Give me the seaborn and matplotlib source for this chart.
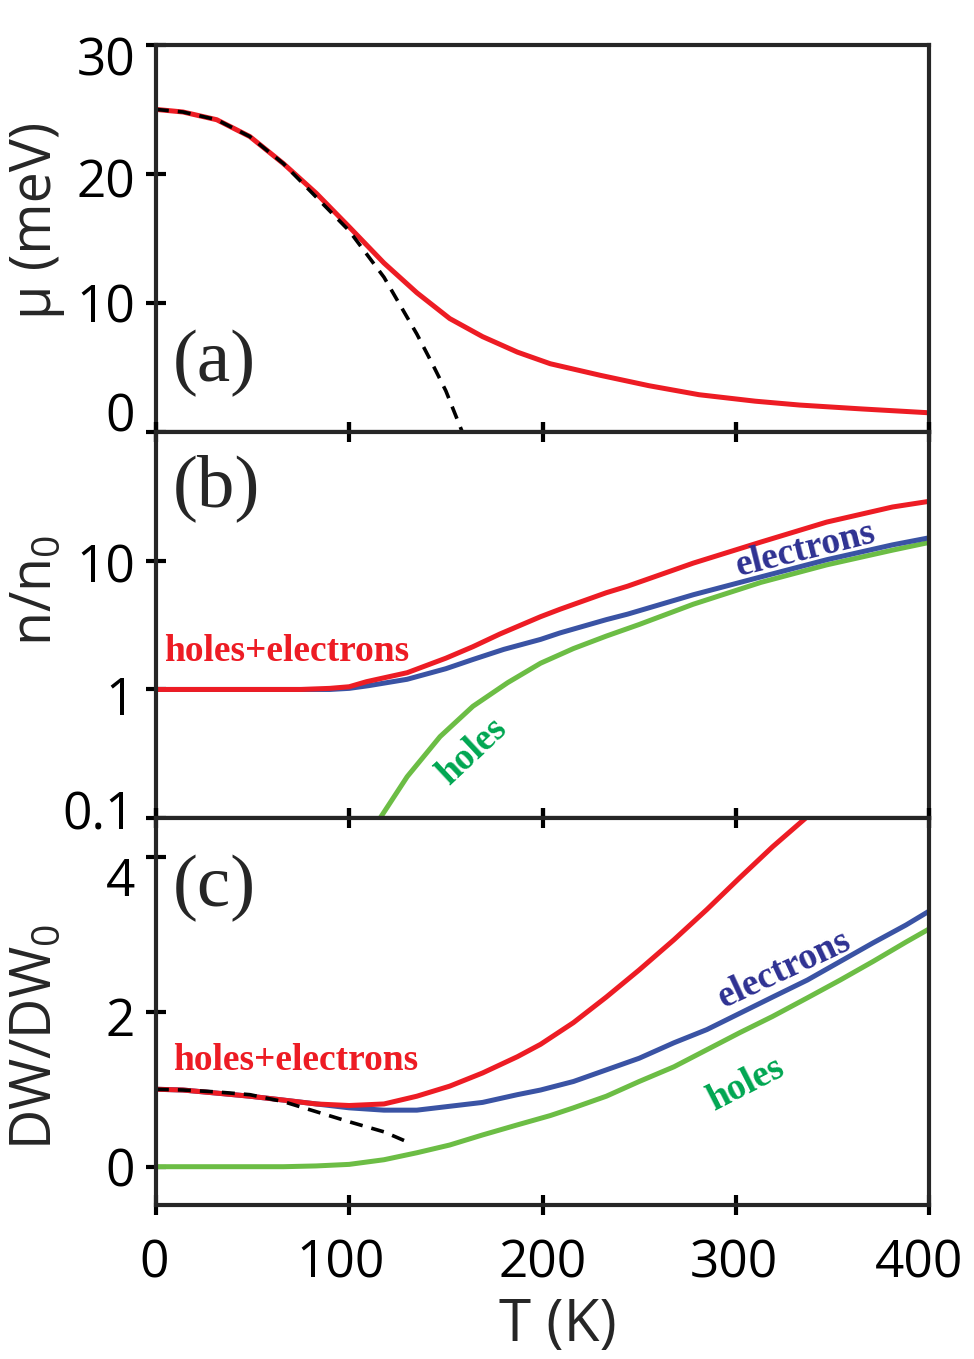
import numpy as np
import pandas as pd
import matplotlib
matplotlib.use("Agg")
import matplotlib.pyplot as plt
import matplotlib.transforms as mtransforms
import seaborn as sns

# 数据
# (a) 化学势
T_mu = [0, 14, 31.5, 48.6, 66, 83, 100, 118, 135, 152, 169, 187, 204, 230, 255, 281, 310, 333, 365, 400]
mu = [25.0, 24.8, 24.2, 22.9, 20.8, 18.5, 15.9, 13.1, 10.8, 8.8, 7.4, 6.2, 5.3, 4.4, 3.6, 2.9, 2.4, 2.1, 1.8, 1.5]
T_mu_fit = [0, 14, 31.5, 48.6, 66, 83, 100, 118, 135, 143, 150, 158, 161]
mu_fit = [25.0, 24.8, 24.2, 22.9, 20.8, 18.2, 15.6, 12.0, 7.6, 5.3, 3.2, 0.2, -0.8]

# (b) 载流子浓度
T_n_total = [0, 25, 50, 75, 90, 100, 109, 130, 150, 164, 178, 199, 209, 233, 244, 278, 313, 347, 381, 400]
n_total = [1.0, 1.0, 1.0, 1.0, 1.02, 1.05, 1.15, 1.35, 1.75, 2.15, 2.7, 3.68, 4.2, 5.65, 6.35, 9.6, 14.0, 20.0, 26.2, 29.0]
T_n_elec = [0, 25, 50, 75, 90, 100, 110, 130, 150, 164, 180, 199, 209, 233, 244, 278, 313, 347, 381, 400]
n_elec = [1.0, 1.0, 1.0, 1.0, 1.0, 1.02, 1.07, 1.2, 1.45, 1.71, 2.05, 2.45, 2.75, 3.49, 3.85, 5.45, 7.5, 10.2, 13.3, 15.1]
T_n_holes = [114, 130, 147, 164, 182, 199, 216, 233, 250, 278, 313, 347, 381, 400]
n_holes = [0.09, 0.21, 0.43, 0.74, 1.13, 1.6, 2.08, 2.6, 3.2, 4.6, 6.8, 9.3, 12.1, 13.9]

# (c) DW
T_dw_total = [0, 14, 31.5, 48.6, 66, 83, 100, 118, 135, 152, 169, 187, 199, 216, 233, 250, 268, 285, 302, 319, 337, 350]
dw_total = [1.0, 0.99, 0.95, 0.91, 0.86, 0.81, 0.79, 0.81, 0.91, 1.04, 1.21, 1.42, 1.58, 1.86, 2.19, 2.54, 2.93, 3.32, 3.73, 4.13, 4.52, 4.85]
T_dw_elec = [0, 14, 31.5, 48.6, 66, 83, 100, 118, 135, 152, 169, 187, 199, 216, 233, 250, 268, 285, 302, 319, 337, 354, 371, 388, 400]
dw_elec = [1.0, 0.99, 0.95, 0.91, 0.86, 0.81, 0.76, 0.73, 0.73, 0.78, 0.83, 0.93, 0.99, 1.10, 1.25, 1.40, 1.60, 1.77, 1.98, 2.19, 2.41, 2.65, 2.89, 3.12, 3.30]
T_dw_holes = [0, 50, 66, 83, 100, 118, 135, 152, 169, 187, 204, 216, 233, 250, 268, 285, 302, 319, 337, 354, 371, 388, 400]
dw_holes = [0.0, 0.0, 0.0, 0.01, 0.03, 0.09, 0.18, 0.28, 0.41, 0.54, 0.66, 0.76, 0.91, 1.10, 1.29, 1.51, 1.73, 1.94, 2.18, 2.41, 2.65, 2.90, 3.07]
T_dw_fit = [0, 14, 31.5, 48.6, 66, 83, 100, 118, 131]
dw_fit = [1.0, 0.99, 0.965, 0.93, 0.84, 0.71, 0.58, 0.45, 0.31]

x_ticks = [0, 100, 200, 300, 400]

RED = '#ED1C24'
BLUE = '#3A53A4'
GREEN = '#6CBD45'
NAVY_TXT = '#2E3192'
GREEN_TXT = '#00A651'

sns.set_style('ticks')
plt.rcParams['font.family'] = ['Open Sans', 'DejaVu Sans']
plt.rcParams['mathtext.default'] = 'regular'
plt.rcParams['axes.linewidth'] = 3

fig = plt.figure(figsize=(9.74, 13.59), dpi=100)
ax_a = fig.add_axes([0.160, 0.682, 0.794, 0.285])
ax_b = fig.add_axes([0.160, 0.398, 0.794, 0.284])
ax_c = fig.add_axes([0.160, 0.113, 0.794, 0.285])

lw = 3.6
dash_lw = 2.6
serif = dict(family='Liberation Serif')
note = dict(family='Liberation Serif', weight='bold', fontsize=27)

# 面板 (a)
sns.lineplot(x=T_mu, y=mu, ax=ax_a, color=RED, lw=lw)
sns.lineplot(x=T_mu_fit, y=mu_fit, ax=ax_a, color='black', lw=dash_lw)
ax_a.lines[-1].set_dashes((3.6, 2.5))
ax_a.set_ylim(0, 30)
ax_a.set_yticks([0, 10, 20, 30])
ax_a.set_ylabel(u'\u03bc (meV)', fontsize=40)
ax_a.yaxis.set_label_coords(-0.118, 0.548)
ax_a.text(0.022, 0.178, '(a)', transform=ax_a.transAxes, fontsize=54, va='center', **serif)

# 面板 (b)
sns.lineplot(x=T_n_holes, y=n_holes, ax=ax_b, color=GREEN, lw=lw)
sns.lineplot(x=T_n_elec, y=n_elec, ax=ax_b, color=BLUE, lw=lw)
sns.lineplot(x=T_n_total, y=n_total, ax=ax_b, color=RED, lw=lw)
ax_b.set_yscale('log')
ax_b.set_ylim(0.1, 100)
ax_b.minorticks_off()
ax_b.set_yticks([0.1, 1, 10])
ax_b.set_yticklabels(['0.1', '1', '10'])
ax_b.set_ylabel('n/n$_0$', fontsize=40)
ax_b.yaxis.set_label_coords(-0.118, 0.59)
ax_b.text(0.022, 0.855, '(b)', transform=ax_b.transAxes, fontsize=54, va='center', **serif)
ax_b.text(4.5, 1.65, 'holes+electrons', color=RED, **note)
ax_b.text(336, 12.2, 'electrons', color=NAVY_TXT, rotation=14, ha='center', va='center',
          rotation_mode='anchor', **note)
ax_b.text(163.5, 0.33, 'holes', color=GREEN_TXT, rotation=43, ha='center', va='center',
          rotation_mode='anchor', **note)

# 面板 (c)
sns.lineplot(x=T_dw_holes, y=dw_holes, ax=ax_c, color=GREEN, lw=lw)
sns.lineplot(x=T_dw_elec, y=dw_elec, ax=ax_c, color=BLUE, lw=lw)
sns.lineplot(x=T_dw_total, y=dw_total, ax=ax_c, color=RED, lw=lw)
sns.lineplot(x=T_dw_fit, y=dw_fit, ax=ax_c, color='black', lw=dash_lw)
ax_c.lines[-1].set_dashes((3.6, 2.5))
ax_c.set_ylim(-0.5, 4.5)
ax_c.set_yticks([0, 2, 4])
ax_c.set_ylabel('DW/DW$_0$', fontsize=40)
ax_c.yaxis.set_label_coords(-0.118, 0.434)
ax_c.set_xlabel('T (K)', fontsize=42)
ax_c.xaxis.set_label_coords(0.52, -0.235)
ax_c.text(0.022, 0.819, '(c)', transform=ax_c.transAxes, fontsize=54, va='center', **serif)
ax_c.text(8.8, 1.25, 'holes+electrons', color=RED, **note)
ax_c.text(325, 2.55, 'electrons', color=NAVY_TXT, rotation=25, ha='center', va='center',
          rotation_mode='anchor', **note)
ax_c.text(305, 1.06, 'holes', color=GREEN_TXT, rotation=27, ha='center', va='center',
          rotation_mode='anchor', **note)

for ax in (ax_a, ax_b, ax_c):
    ax.set_xlim(0, 400)
    ax.set_xticks(x_ticks)
    for s in ax.spines.values():
        s.set_visible(True)
        s.set_linewidth(3)
    for ln in ax.lines:
        ln.set_solid_joinstyle('round')
    ax.tick_params(axis='both', direction='inout', length=14, width=3,
                   labelsize=37, colors='black')
    ax.tick_params(axis='y', pad=8, right=False)
    ax.tick_params(axis='x', pad=17, top=(ax is not ax_a), bottom=True)
    if ax is not ax_c:
        ax.tick_params(axis='x', labelbottom=False)

# 刻度标签微调 (像素, 向下为正)
label_shift = {ax_a: [-20, 0, 4, 11], ax_b: [-8, 6, 2], ax_c: [0, 5, 20]}
for ax, shifts in label_shift.items():
    for lab, dy in zip(ax.get_yticklabels(), shifts):
        off = mtransforms.ScaledTranslation(0, -dy / 100, fig.dpi_scale_trans)
        lab.set_transform(lab.get_transform() + off)
x_shift = [-2, -9, 0, -2, -10]
for lab, dx in zip(ax_c.get_xticklabels(), x_shift):
    off = mtransforms.ScaledTranslation(dx / 100, 0, fig.dpi_scale_trans)
    lab.set_transform(lab.get_transform() + off)

fig.savefig('out.png', dpi=100)
